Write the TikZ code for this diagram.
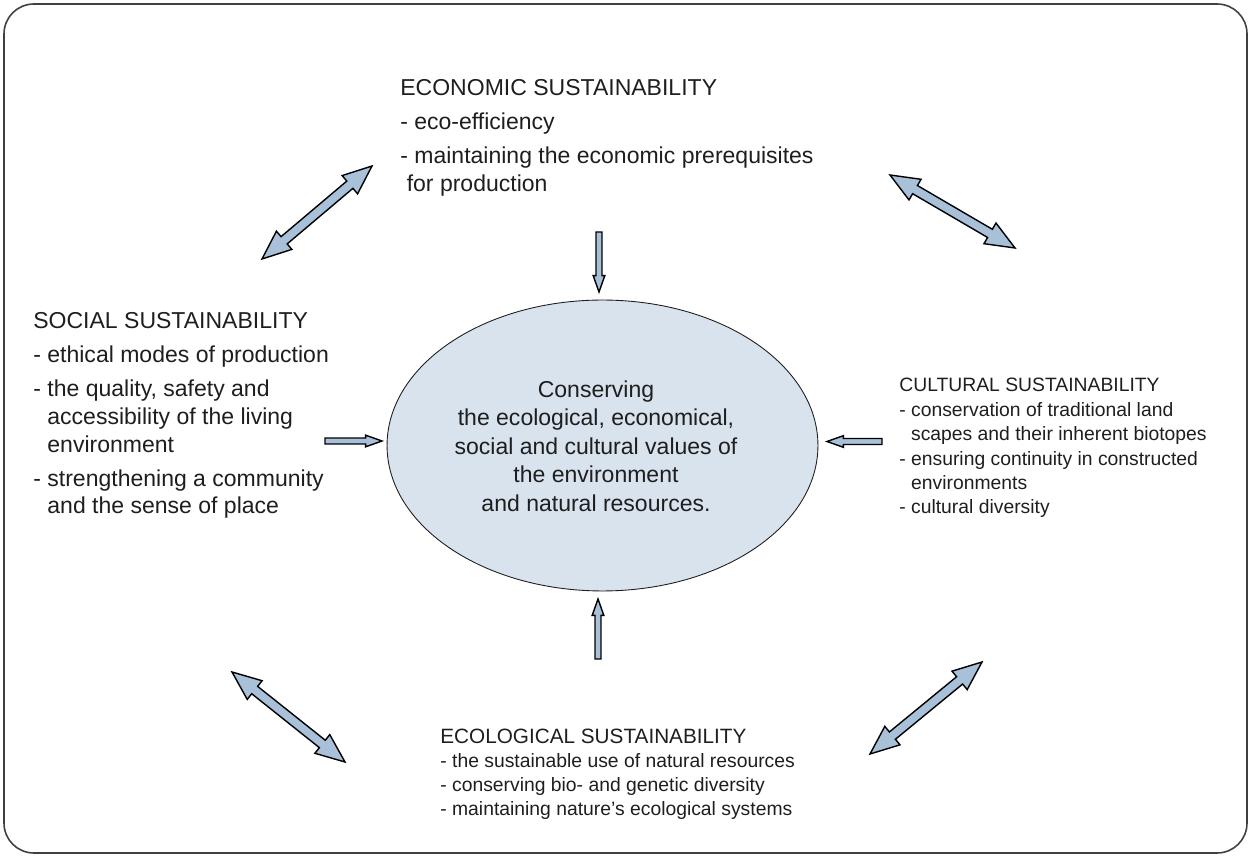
\documentclass[tikz,border=0pt]{standalone}
\usepackage{fontspec}
\setmainfont{Liberation Sans}
\usetikzlibrary{calc,shapes.geometric}
\definecolor{inkgray}{HTML}{1E1E1E}
\definecolor{corefill}{HTML}{D9E3EE}
\definecolor{arrfill}{HTML}{A8C0D8}
\tikzset{
  frame/.style={draw=inkgray!85,line width=0.9pt,rounded corners=17pt},
  core/.style={ellipse,draw=inkgray,fill=corefill,line width=0.5pt,minimum width=8.62cm,minimum height=5.82cm,inner sep=0pt},
  coretxt/.style={align=center,text=inkgray,font=\fontsize{13.1}{16.2}\selectfont},
  bigblk/.style={anchor=north west,inner sep=0pt,align=left,text=inkgray,font=\fontsize{13.1}{15.8}\selectfont},
  smlblk/.style={anchor=north west,inner sep=0pt,align=left,text=inkgray,font=\fontsize{11}{13.9}\selectfont},
  % block arrow, tip at the target: #1 half shaft, #2 half head, #3 head length
  fatarr/.style n args={3}{draw=black,fill=arrfill,line width=0.8pt,line join=miter,
    to path={($(\tikztostart)!#1!90:(\tikztotarget)$)
      -- ($(\tikztotarget)!#3!(\tikztostart)!#1!-90:(\tikztostart)$)
      -- ($(\tikztotarget)!#3!(\tikztostart)!#2!-90:(\tikztostart)$)
      -- (\tikztotarget)
      -- ($(\tikztotarget)!#3!(\tikztostart)!#2!90:(\tikztostart)$)
      -- ($(\tikztotarget)!#3!(\tikztostart)!#1!90:(\tikztostart)$)
      -- ($(\tikztostart)!#1!-90:(\tikztotarget)$) -- cycle}},
  % same, with a head at both ends
  fatdarr/.style n args={3}{draw=black,fill=arrfill,line width=0.8pt,line join=miter,
    to path={-- ($(\tikztostart)!#3!(\tikztotarget)!#2!-90:(\tikztostart)$)
      -- ($(\tikztostart)!#3!(\tikztotarget)!#1!-90:(\tikztostart)$)
      -- ($(\tikztotarget)!#3!(\tikztostart)!#1!-90:(\tikztostart)$)
      -- ($(\tikztotarget)!#3!(\tikztostart)!#2!-90:(\tikztostart)$)
      -- (\tikztotarget)
      -- ($(\tikztotarget)!#3!(\tikztostart)!#2!90:(\tikztostart)$)
      -- ($(\tikztotarget)!#3!(\tikztostart)!#1!90:(\tikztostart)$)
      -- ($(\tikztostart)!#3!(\tikztotarget)!#1!90:(\tikztostart)$)
      -- ($(\tikztostart)!#3!(\tikztotarget)!#2!90:(\tikztostart)$) -- cycle}},
  onearr/.style={fatarr={1.7pt}{3.3pt}{9.3pt}},
  twoarr/.style={fatdarr={2.7pt}{6.8pt}{16.5pt}}
}

\begin{document}
\begin{tikzpicture}[x=0.02cm,y=-0.02cm]
  \useasboundingbox (0,0) rectangle (1251,857);
  \draw[frame] (4,4) rectangle (1247,853);

  \node[core] (core) at (602.5,445.5) {};
  \node[coretxt] (core_txt) at (596,446) {Conserving\\the ecological, economical,\\social and cultural values of\\the environment\\and natural resources.};

  \node[bigblk] (eco) at (400,79.5) {ECONOMIC SUSTAINABILITY\\[3.5pt]
    - eco-efficiency\\[3.5pt]
    - maintaining the economic prerequisites\\
    \hspace*{0.28em}for production};
  \node[bigblk] (soc) at (33,312.5) {SOCIAL SUSTAINABILITY\\[3.5pt]
    - ethical modes of production\\[3.5pt]
    - the quality, safety and\\
    \hphantom{- }accessibility of the living\\
    \hphantom{- }environment\\[3.5pt]
    - strengthening a community\\
    \hphantom{- }and the sense of place};
  \node[smlblk] (cul) at (899,378) {CULTURAL SUSTAINABILITY\\
    - conservation of traditional land\\
    \hphantom{- }scapes and their inherent biotopes\\
    - ensuring continuity in constructed\\
    \hphantom{- }environments\\
    - cultural diversity};
  \node[smlblk,font=\fontsize{11}{13.7}\selectfont] (ecl) at (440,728.5) {{\fontsize{11.8}{13.7}\selectfont ECOLOGICAL SUSTAINABILITY}\\
    - the sustainable use of natural resources\\
    - conserving bio- and genetic diversity\\
    - maintaining nature’s ecological systems};

  % arrow ends
  \coordinate (top_s) at (599,232);   \coordinate (top_t) at (599,292);
  \coordinate (lft_s) at (325,441);   \coordinate (lft_t) at (382,441);
  \coordinate (rgt_s) at (882,441.5); \coordinate (rgt_t) at (827,441.5);
  \coordinate (bot_s) at (598,659);   \coordinate (bot_t) at (598,599);
  \coordinate (ul_a) at (262,259);  \coordinate (ul_b) at (372,166);
  \coordinate (ur_a) at (890,175);  \coordinate (ur_b) at (1015,248);
  \coordinate (ll_a) at (232,672);  \coordinate (ll_b) at (345,762);
  \coordinate (lr_a) at (870,754);  \coordinate (lr_b) at (982,662);

  \draw[onearr] (top_s) to (top_t);
  \draw[onearr] (lft_s) to (lft_t);
  \draw[onearr] (rgt_s) to (rgt_t);
  \draw[onearr] (bot_s) to (bot_t);

  \draw[twoarr] (ul_a) to (ul_b);
  \draw[twoarr] (ur_a) to (ur_b);
  \draw[twoarr] (ll_a) to (ll_b);
  \draw[twoarr] (lr_a) to (lr_b);
\end{tikzpicture}
\end{document}
